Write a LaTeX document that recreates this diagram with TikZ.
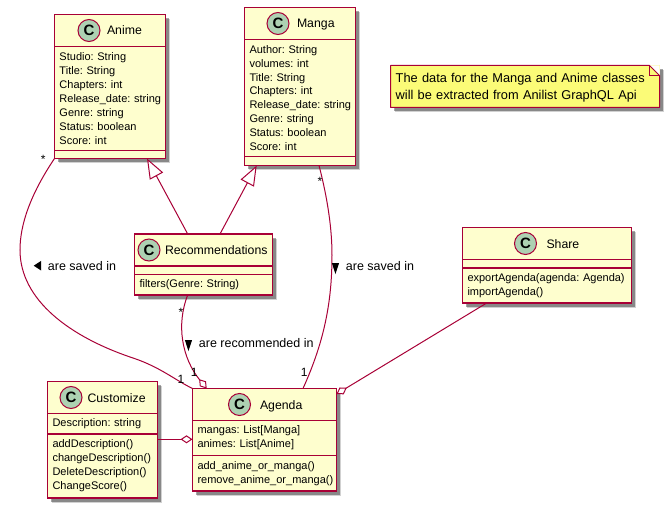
\documentclass[tikz,border=0pt]{standalone}
\usepackage{fontspec}
\setmainfont{Liberation Sans}
\frenchspacing
\usetikzlibrary{shapes.geometric,arrows.meta,positioning,shadows}
\definecolor{umlred}{HTML}{A80036}
\definecolor{umlyellow}{HTML}{FEFECE}
\definecolor{umlgreen}{HTML}{ADD1B2}
\definecolor{notefill}{HTML}{FBFB77}
\tikzstyle{boxshadow} = [drop shadow={shadow xshift=4.5pt, shadow yshift=-4.5pt, fill=black, opacity=.18}, drop shadow={shadow xshift=3.5pt, shadow yshift=-3.5pt, fill=black, opacity=.35}]
\tikzstyle{classhead} = [rectangle, anchor=north west, outer sep=0pt, minimum height=32pt, draw=umlred, line width=1.5pt, fill=umlyellow, boxshadow]
\tikzstyle{classbody} = [rectangle, anchor=north west, outer sep=0pt, inner xsep=5pt, inner ysep=0pt, align=left, draw=umlred, line width=1.5pt, fill=umlyellow, boxshadow, font=\fontsize{11}{13.9}\selectfont\frenchspacing]
\tikzstyle{spot} = [circle, outer sep=0pt, inner sep=0pt, minimum size=22pt, draw=umlred, line width=1pt, fill=umlgreen, font=\fontsize{15}{15}\selectfont\bfseries]
\tikzstyle{title} = [inner sep=0pt, outer sep=0pt, text height=9pt, text depth=0pt, font=\fontsize{12.3}{14}\selectfont]
\tikzstyle{mult} = [inner sep=0pt, font=\fontsize{12}{14}\selectfont]
\tikzstyle{assoc} = [inner sep=0pt, anchor=west, text height=9pt, text depth=0pt, font=\fontsize{12.5}{14}\selectfont]
\tikzstyle{marker} = [isosceles triangle, inner sep=0pt, outer sep=0pt, fill=black]
\tikzstyle{link} = [draw=umlred, line width=1pt]
\tikzstyle{extends} = [link, -{Triangle[fill=white,length=20pt,width=15pt]}]
\tikzstyle{aggreg} = [link, -{Diamond[fill=white,length=12pt,width=8pt]}]
\begin{document}
\begin{tikzpicture}[x=1pt,y=-1pt]
\useasboundingbox (0,0) rectangle (665,511);

\node (animeHead) [classhead, minimum width=111pt] at (54.5,14.5) {};
\node (animeSpot) [spot, right=23.5pt of animeHead.west] {C};
\node (animeTitle) [title, right=7pt of animeSpot.east] {Anime};
\node (animeAttr) [classbody, text width=101pt, minimum height=104pt] at (animeHead.south west) {Studio: String\\Title: String\\Chapters: int\\\mbox{Release\_date: string}\\Genre: string\\Status: boolean\\Score: int};
\node (animeMeth) [classbody, text width=101pt, minimum height=8pt] at (animeAttr.south west) {};
%
\node (mangaHead) [classhead, minimum width=111pt] at (244.5,7.5) {};
\node (mangaSpot) [spot, right=22.5pt of mangaHead.west] {C};
\node (mangaTitle) [title, right=8pt of mangaSpot.east] {Manga};
\node (mangaAttr) [classbody, text width=101pt, minimum height=117pt] at (mangaHead.south west) {Author: String\\volumes: int\\Title: String\\Chapters: int\\\mbox{Release\_date: string}\\Genre: string\\Status: boolean\\Score: int};
\node (mangaMeth) [classbody, text width=101pt, minimum height=9pt] at (mangaAttr.south west) {};
%
\node (recHead) [classhead, minimum width=138pt] at (134.5,234) {};
\node (recSpot) [spot, right=3.5pt of recHead.west] {C};
\node (recTitle) [title, right=5pt of recSpot.east] {Recommendations};
\node (recAttr) [classbody, text width=128pt, minimum height=8.5pt] at (recHead.south west) {};
\node (recMeth) [classbody, text width=128pt, minimum height=20.5pt] at (recAttr.south west) {filters(Genre: String)};
%
\node (customHead) [classhead, minimum width=110pt] at (47.5,381.5) {};
\node (customSpot) [spot, right=12.5pt of customHead.west] {C};
\node (customTitle) [title, right=5.5pt of customSpot.east] {Customize};
\node (customAttr) [classbody, text width=100pt, minimum height=20.5pt] at (customHead.south west) {Description: string};
\node (customMeth) [classbody, text width=100pt, minimum height=64pt] at (customAttr.south west) {addDescription()\\changeDescription()\\DeleteDescription()\\ChangeScore()};
%
\node (agendaHead) [classhead, minimum width=144pt] at (192.5,388.5) {};
\node (agendaSpot) [spot, right=36pt of agendaHead.west] {C};
\node (agendaTitle) [title, right=9.5pt of agendaSpot.east] {Agenda};
\node (agendaAttr) [classbody, text width=134pt, minimum height=35pt] at (agendaHead.south west) {mangas: List[Manga]\\animes: List[Anime]};
\node (agendaMeth) [classbody, text width=134pt, minimum height=35.5pt] at (agendaAttr.south west) {add\_anime\_or\_manga()\\remove\_anime\_or\_manga()};
%
\node (shareHead) [classhead, minimum width=169pt] at (462.5,227.5) {};
\node (shareSpot) [spot, right=52pt of shareHead.west] {C};
\node (shareTitle) [title, right=10pt of shareSpot.east] {Share};
\node (shareAttr) [classbody, text width=159pt, minimum height=8.5pt] at (shareHead.south west) {};
\node (shareMeth) [classbody, text width=159pt, minimum height=35pt] at (shareAttr.south west) {exportAgenda(agenda: Agenda)\\importAgenda()};
%
\node (note) [rectangle, anchor=north west, outer sep=0pt, inner xsep=5.2pt, inner ysep=0pt, minimum height=42pt, text width=258.6pt, align=left, fill=notefill, boxshadow, font=\fontsize{12.8}{16.7}\selectfont\frenchspacing] at (390.5,65.5) {\rule{0pt}{12.3pt}The data for the Manga and Anime classes\\will be extracted from Anilist GraphQL Api};
\fill [white] ([xshift=-10pt]note.north east) -- (note.north east) -- ([yshift=-10pt]note.north east) -- cycle;
\draw [draw=umlred, line width=1pt, line join=round] (note.north west) -- ([xshift=-10pt]note.north east) -- ([yshift=-10pt]note.north east) -- (note.south east) -- (note.south west) -- cycle;
\draw [draw=umlred, line width=1pt] ([xshift=-10pt]note.north east) -- ([xshift=-10pt,yshift=-10pt]note.north east) -- ([yshift=-10pt]note.north east);
%
\draw [extends] ([xshift=53.2pt]recHead.north west) -- ([xshift=92.5pt]animeMeth.south west);
\draw [extends] ([xshift=85.5pt]recHead.north west) -- ([xshift=12.2pt]mangaMeth.south west);
\draw [link] (animeMeth.south west) .. controls (30,195) and (20,225) .. (20,250) .. controls (20,300) and (70,337) .. (133,358) .. controls (160,367) and (175,380) .. (agendaHead.north west);
\draw [link] ([xshift=74.5pt]mangaMeth.south west) .. controls (328,200) and (332,230) .. (332,255) .. controls (332,300) and (325,340) .. ([xshift=110.5pt]agendaHead.north west);
\draw [aggreg] ([xshift=53.2pt]recMeth.south west) .. controls (176,325) and (182,358) .. ([xshift=14.2pt]agendaHead.north west);
\draw [aggreg] ([xshift=24.2pt]shareMeth.south west) -- ([yshift=-5.5pt]agendaHead.north east);
\draw [aggreg] ([yshift=-5.3pt]customMeth.north east) -- ([yshift=-18.8pt]agendaAttr.north west);
%
\node (animeMany) [mult] at (43.3,159) {*};
\node (animeOne) [mult] at (181,379.5) {1};
\node (recMany) [mult] at (181,312) {*};
\node (recOne) [mult] at (194.3,372.5) {1};
\node (mangaMany) [mult] at (320,181) {*};
\node (mangaOne) [mult] at (304.3,372.5) {1};
%
\node (savedAnime) [assoc] at (47.7,265.7) {are saved in};
\node (savedManga) [assoc] at (345.7,265.7) {are saved in};
\node (recommended) [assoc] at (198.7,342.7) {are recommended in};
\node (savedAnimeMark) [marker, isosceles triangle apex angle=66, minimum height=7.5pt, shape border rotate=180, left=6.5pt of savedAnime.west] {};
\node (savedMangaMark) [marker, isosceles triangle apex angle=36, minimum height=11pt, shape border rotate=270, left=7.5pt of savedManga.west] {};
\node (recommendedMark) [marker, isosceles triangle apex angle=36, minimum height=11pt, shape border rotate=270, left=7.5pt of recommended.west] {};
\end{tikzpicture}
\end{document}
